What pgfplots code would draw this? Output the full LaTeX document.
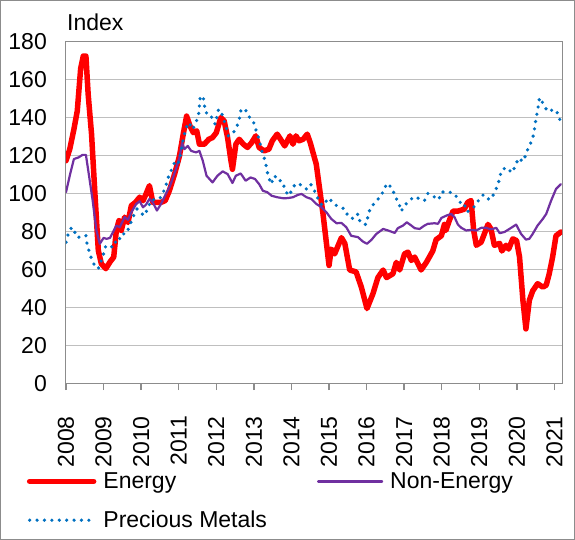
\documentclass[border=0pt]{standalone}
\usepackage{fontspec}
\setmainfont{Liberation Sans}
\usepackage{pgfplots}
\pgfplotsset{compat=1.18}
\usepackage{pgfplotstable}
\definecolor{energy}{HTML}{FF0000}
\definecolor{nonenergy}{HTML}{7030A0}
\definecolor{precious}{HTML}{0070C0}
\definecolor{gridc}{HTML}{BFBFBF}
\definecolor{axisc}{HTML}{8C8C8C}

\pgfplotstableread{
x y
2008.00 117.5
2008.10 123.6
2008.21 134
2008.30 143.7
2008.39 166
2008.46 172.6
2008.53 172.6
2008.59 152.4
2008.68 131.5
2008.77 100
2008.86 70.3
2008.94 63.3
2009.06 60.7
2009.17 64.2
2009.27 66.8
2009.34 80.8
2009.41 86
2009.47 80.8
2009.56 87.8
2009.65 85
2009.74 93.9
2009.85 95.6
2009.96 98.3
2010.05 96.5
2010.13 100
2010.22 104.4
2010.31 95.6
2010.40 95.6
2010.53 95.6
2010.64 96.5
2010.75 101.7
2010.89 110.5
2011.02 120
2011.12 131.5
2011.21 141
2011.30 135.8
2011.39 132.3
2011.48 133.2
2011.55 126.2
2011.68 126.2
2011.80 128.8
2011.90 129.7
2012.00 132.3
2012.12 140.2
2012.21 138.5
2012.30 129.7
2012.39 117.5
2012.43 113
2012.52 126.2
2012.61 128.8
2012.72 126.2
2012.83 124.5
2012.94 127
2013.05 130.6
2013.14 124.5
2013.27 122.7
2013.40 123.6
2013.49 128
2013.62 131.5
2013.71 128.8
2013.82 125.3
2013.96 130.6
2014.04 126.2
2014.12 130.6
2014.20 128
2014.31 128.8
2014.42 131.5
2014.50 127
2014.66 115.7
2014.84 89.5
2015.00 62.4
2015.06 71
2015.15 68.5
2015.33 77
2015.42 74
2015.55 60
2015.72 59
2015.86 51
2016.01 39.7
2016.17 47.6
2016.30 56
2016.44 60
2016.53 56
2016.70 58
2016.79 64
2016.88 60
2017.01 68.5
2017.10 69.4
2017.19 65
2017.28 66.8
2017.45 60
2017.59 64
2017.76 70
2017.85 76
2017.99 78
2018.07 84
2018.11 80.8
2018.20 86
2018.30 91
2018.43 91
2018.60 92
2018.69 95.6
2018.78 96.5
2018.85 80.8
2018.92 73
2019.05 74.7
2019.23 84
2019.31 81.6
2019.40 73
2019.54 74
2019.60 70
2019.71 73
2019.78 71
2019.89 76.4
2019.99 75.5
2020.07 66.8
2020.16 44
2020.24 29
2020.33 44
2020.42 49
2020.55 52.8
2020.69 51
2020.78 52
2020.86 58
2020.95 66.8
2021.04 78
2021.17 80
}\energytab

\pgfplotstableread{
x y
2008.00 100.9
2008.11 110.5
2008.21 118.4
2008.33 119.2
2008.44 120.6
2008.53 120.6
2008.62 108.7
2008.71 96.5
2008.81 80.8
2008.90 73.8
2009.00 76.9
2009.08 76.4
2009.17 76.9
2009.25 79.9
2009.34 83.4
2009.43 82.5
2009.56 87.8
2009.65 86.4
2009.74 90.4
2009.87 94.8
2009.96 96.2
2010.05 93
2010.13 94.4
2010.22 97.4
2010.31 95.6
2010.42 91.3
2010.53 94.8
2010.65 99.7
2010.77 104.4
2010.91 112.2
2011.02 119.2
2011.09 127
2011.15 123.6
2011.24 125.3
2011.33 122.7
2011.46 121.9
2011.55 122.7
2011.64 117.5
2011.74 109.6
2011.90 106.1
2012.03 109.6
2012.17 111.9
2012.30 110.5
2012.43 105.8
2012.52 109.6
2012.65 110.8
2012.78 107
2012.91 108.7
2013.03 107.9
2013.14 105.2
2013.24 101.7
2013.36 100.9
2013.47 99.1
2013.62 98.3
2013.80 97.7
2013.92 97.9
2014.04 98.3
2014.18 99.6
2014.27 100
2014.40 98.3
2014.53 97.4
2014.66 94.8
2014.80 93
2014.93 90.4
2015.06 86.9
2015.20 84.6
2015.33 84.8
2015.46 82.5
2015.59 78
2015.77 77.3
2015.90 75
2016.01 73.8
2016.13 75.9
2016.26 79
2016.44 81.6
2016.57 80.8
2016.75 79.5
2016.83 82
2016.97 83.4
2017.07 85.1
2017.19 83.4
2017.28 82
2017.41 81.6
2017.54 83.4
2017.63 84.3
2017.81 84.6
2017.90 84.3
2017.99 87.4
2018.12 88.6
2018.25 89.5
2018.34 87.8
2018.43 83.9
2018.52 82.2
2018.65 80.8
2018.78 81.1
2018.92 80.8
2019.05 82.2
2019.18 82.2
2019.27 81.6
2019.36 81.6
2019.45 82.2
2019.54 79.4
2019.67 80
2019.80 81.6
2019.98 83.9
2020.11 79
2020.24 76
2020.33 76.4
2020.42 79
2020.55 83.4
2020.69 86.9
2020.78 89.5
2020.91 96.5
2021.04 102.6
2021.17 105.2
}\nonenergytab

\pgfplotstableread{
x y
2008.00 74.6
2008.06 79
2008.15 82.5
2008.21 80.8
2008.31 77
2008.44 78.1
2008.53 78.1
2008.56 73.8
2008.62 69.4
2008.68 65.9
2008.77 61.9
2008.86 60.7
2008.94 65
2009.00 68.5
2009.06 72.9
2009.17 72.4
2009.27 72
2009.34 75.9
2009.41 75.5
2009.47 79
2009.60 79
2009.69 83
2009.78 87.8
2009.89 92.1
2010.00 89.9
2010.09 88.6
2010.18 92.7
2010.27 96.9
2010.36 97
2010.49 97.4
2010.58 100.3
2010.67 105.2
2010.75 110.5
2010.84 114
2010.91 117.8
2011.00 116.6
2011.06 121.9
2011.12 128.8
2011.18 134
2011.27 137.6
2011.37 134
2011.46 137.6
2011.53 142
2011.57 150.7
2011.65 151.6
2011.68 147.2
2011.72 142.8
2011.83 142.3
2011.90 139.3
2011.97 136.7
2012.06 144.6
2012.15 142
2012.24 136.7
2012.32 130.6
2012.43 131.5
2012.54 135
2012.61 139.3
2012.65 143.7
2012.76 145.1
2012.85 141.1
2012.98 138.5
2013.05 134
2013.14 128.8
2013.22 121.9
2013.30 117.5
2013.36 111.4
2013.45 105.2
2013.56 109.6
2013.62 107
2013.74 107
2013.83 102.6
2013.91 99.1
2014.00 101.4
2014.10 105.4
2014.24 104.9
2014.40 102.6
2014.51 105.2
2014.62 101.4
2014.71 97.4
2014.82 93.9
2015.00 97.9
2015.12 94.8
2015.25 93.4
2015.42 92.1
2015.51 88.1
2015.66 86.9
2015.77 89.5
2015.83 85.1
2015.98 83.9
2016.09 92.1
2016.22 95.6
2016.37 98.6
2016.46 102.1
2016.54 105.6
2016.68 103.1
2016.75 99.1
2016.86 95.1
2016.92 90.9
2017.01 93.9
2017.15 96.9
2017.28 98.6
2017.41 97.4
2017.54 96.5
2017.63 100.3
2017.75 99.1
2017.92 97
2017.99 100.9
2018.12 101.4
2018.30 100.5
2018.45 97.4
2018.54 93.4
2018.65 93.9
2018.70 90.9
2018.87 93.4
2018.99 96.9
2019.11 99.7
2019.27 96.9
2019.39 100
2019.47 103.8
2019.54 107.9
2019.58 112.2
2019.71 114
2019.87 111.2
2019.96 114.9
2020.04 118.9
2020.16 117.1
2020.22 119.8
2020.29 123.6
2020.38 127.4
2020.45 131.5
2020.48 135.8
2020.51 140.2
2020.56 144.6
2020.58 149
2020.62 150.7
2020.71 146.9
2020.82 143.4
2021.00 144.6
2021.12 141.6
2021.16 137
}\precioustab

\begin{document}
\begin{tikzpicture}[font=\fontsize{23}{27}\selectfont]
\useasboundingbox (-66pt,-156pt) rectangle (509pt,384pt);
\draw[axisc, line width=1pt] (-65.5pt,-155.5pt) rectangle (508.5pt,383.5pt);
\begin{axis}[
  at={(0pt,0pt)}, anchor=south west,
  scale only axis, width=496pt, height=342pt,
  xmin=2008, xmax=2021.2, ymin=0, ymax=180,
  ytick={0,20,...,180}, xtick={2008,2009,...,2021},
  ymajorgrids, grid style={gridc, line width=1pt},
  axis line style={axisc, line width=1pt},
  tick align=outside, major tick length=6pt,
  xtick pos=left, ytick pos=left,
  xtick style={axisc, line width=1.5pt},
  ytick style={draw=none},
  /pgf/number format/assume math mode=true,
  /pgf/number format/1000 sep={},
  xticklabel style={yshift=-26pt, rotate=90, anchor=east, inner sep=0pt},
  yticklabel style={anchor=east, inner sep=0pt, xshift=-13pt},
  legend columns=2,
  legend cell align=left,
  legend style={draw=none, fill=none, at={(-0.0792,-0.259)}, anchor=north west,
    inner sep=0pt, row sep=21pt, nodes={inner sep=0pt},
    /tikz/every odd column/.append style={column sep=7pt},
    /tikz/every even column/.append style={column sep=50pt}},
  legend image code/.code={\draw[#1] (3pt,0pt) -- (67pt,0pt);},
]
\addplot[energy, line width=5.5pt, line join=round, line cap=round] table {\energytab};
\addlegendentry{Energy}
\addplot[nonenergy, line width=2.2pt, line join=round, line cap=round] table {\nonenergytab};
\addlegendentry{Non-Energy}
\addplot[precious, line width=3.6pt, line cap=round, dash pattern=on 0pt off 7.4pt] table {\precioustab};
\addlegendentry{Precious Metals}
\end{axis}
\node[anchor=base west, inner sep=0pt] at (1pt,353pt) {Index};
\end{tikzpicture}
\end{document}
